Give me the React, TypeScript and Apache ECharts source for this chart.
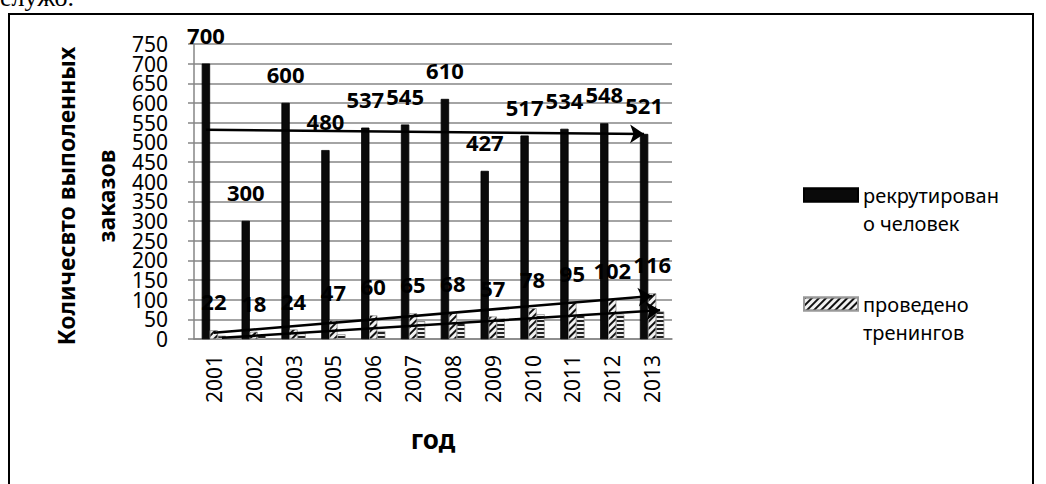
import React, { useEffect, useRef } from "react";
import * as echarts from "echarts";

const years = ["2001", "2002", "2003", "2005", "2006", "2007", "2008", "2009", "2010", "2011", "2012", "2013"];
const recruited = [700, 300, 600, 480, 537, 545, 610, 427, 517, 534, 548, 521];
const trainings = [22, 18, 24, 47, 60, 65, 68, 57, 78, 95, 102, 116];
const thirdSeries = [8, 10, 14, 12, 20, 45, 40, 52, 63, 60, 62, 70];
const seriesNames = ["рекрутировано человек", "проведено тренингов", "Ряд3"];
const legendLabels: Record<string, string> = {
  "рекрутировано человек": " \nрекрутирован\nо человек",
  "проведено тренингов": " \nпроведено\nтренингов",
};
const yMin = 0;
const yMax = 750;
const yInterval = 50;
// tick labels, split in two interleaved sets so that none is dropped as "overlapping"
const yLabelsEven = [0, 100, 200, 300, 400, 500, 600, 700];
const yLabelsOdd = [50, 150, 250, 350, 450, 550, 650, 750];
const yTitle = "Количесвто выполенных\nзаказов";
const xTitle = "год";
const topText = "елужо.";

// Linear trend (least squares), as Excel's linear trendline
function trend(values: number[]): [number, number] {
  const n = values.length;
  const mx = (n - 1) / 2;
  const my = values.reduce((a, b) => a + b, 0) / n;
  let sxy = 0;
  let sxx = 0;
  values.forEach((v, i) => {
    sxy += (i - mx) * (v - my);
    sxx += (i - mx) * (i - mx);
  });
  const slope = sxy / sxx;
  return [my - slope * mx, my + slope * (n - 1 - mx)];
}

function trendMarkLine(values: number[]) {
  const t = trend(values);
  return {
    silent: true,
    symbol: ["none", "arrow"],
    symbolSize: 14,
    label: { show: false },
    lineStyle: { color: "#000", width: 2.5, type: "solid" },
    emphasis: { disabled: true },
    data: [[{ coord: [years[0], t[0]] }, { coord: [years[years.length - 1], t[1]] }]],
  };
}

const FONT = "Noto Sans";

export default function App() {
  const ref = useRef<HTMLDivElement>(null);
  useEffect(() => {
    if (!ref.current) return;
    const chart = echarts.init(ref.current, undefined, { renderer: "svg" });
    const labelStyle = {
      show: true,
      position: "top",
      distance: 18,
      fontSize: 22,
      fontWeight: "bold",
      fontFamily: FONT,
      color: "#000",
    };
    const yLabelStyle = {
      fontSize: 21,
      lineHeight: 14,
      fontFamily: FONT,
      color: "#000",
      margin: 26,
      showMinLabel: true,
      showMaxLabel: true,
    };
    chart.setOption({
      animation: false,
      backgroundColor: "#fff",
      grid: { left: 194, right: 374, top: 44, bottom: 145 },
      legend: {
        orient: "vertical",
        left: 798,
        top: 148,
        itemWidth: 54,
        itemHeight: 13,
        itemGap: 25,
        icon: "rect",
        data: [seriesNames[0], seriesNames[1]],
        formatter: (n: string) => legendLabels[n] || n,
        textStyle: {
          fontSize: 20,
          fontFamily: FONT,
          color: "#000",
          lineHeight: 28,
        },
      },
      xAxis: {
        type: "category",
        data: years,
        axisLine: { lineStyle: { color: "#868686", width: 1.5 } },
        axisTick: { length: 6, lineStyle: { color: "#868686", width: 1.5 } },
        axisLabel: { rotate: 90, fontSize: 21, fontFamily: FONT, color: "#000", margin: 16 },
        name: xTitle,
        nameLocation: "middle",
        nameGap: 87,
        nameTextStyle: { fontSize: 26, fontWeight: "bold", fontFamily: FONT, color: "#000" },
      },
      yAxis: [
        {
          type: "value",
          position: "left",
          min: yMin,
          max: yMax,
          interval: yInterval,
          axisLine: { show: true, lineStyle: { color: "#868686", width: 1.5 } },
          axisTick: { show: true, length: 6, lineStyle: { color: "#868686", width: 1.5 } },
          splitLine: { lineStyle: { color: "#868686", width: 1.5 } },
          axisLabel: { ...yLabelStyle, customValues: yLabelsEven },
        },
        {
          type: "value",
          position: "left",
          offset: 0,
          min: yMin,
          max: yMax,
          interval: yInterval,
          axisLine: { show: false },
          axisTick: { show: false },
          splitLine: { show: false },
          axisLabel: { ...yLabelStyle, customValues: yLabelsOdd },
        },
      ],
      series: [
        {
          type: "bar",
          name: seriesNames[0],
          data: recruited,
          barWidth: 8,
          barGap: "0%",
          itemStyle: {
            color: "#0a0a0a",
            borderColor: "#000",
            borderWidth: 0.5,
            decal: {
              symbol: "circle",
              symbolSize: 0.7,
              dashArrayX: [1, 2],
              dashArrayY: [1, 3],
              color: "rgba(170,170,170,0.9)",
            },
          },
          label: labelStyle,
          markLine: trendMarkLine(recruited),
          z: 2,
        },
        {
          type: "bar",
          name: seriesNames[1],
          data: trainings,
          barWidth: 8,
          barGap: "0%",
          itemStyle: {
            color: "#f2f2f2",
            borderColor: "#999",
            borderWidth: 0.5,
            decal: {
              symbol: "rect",
              symbolSize: 1,
              dashArrayX: [1, 0],
              dashArrayY: [1.5, 2.5],
              rotation: -Math.PI / 4,
              color: "#111",
            },
          },
          label: labelStyle,
          markLine: trendMarkLine(trainings),
          z: 2,
        },
        {
          type: "bar",
          name: seriesNames[2],
          data: thirdSeries,
          barWidth: 8,
          barGap: "0%",
          itemStyle: {
            color: "#f2f2f2",
            borderColor: "#999",
            borderWidth: 0.5,
            decal: {
              symbol: "rect",
              symbolSize: 1,
              dashArrayX: [1, 0],
              dashArrayY: [1.5, 1.5],
              rotation: 0,
              color: "#222",
            },
          },
          markLine: trendMarkLine(thirdSeries),
          z: 2,
        },
      ],
      graphic: [
        {
          type: "rect",
          shape: { x: 9, y: 14, width: 1024, height: 490 },
          style: { fill: "none", stroke: "#000", lineWidth: 2 },
          silent: true,
        },
        {
          type: "text",
          x: 86,
          y: 196,
          rotation: Math.PI / 2,
          style: {
            text: yTitle,
            fontSize: 23,
            fontWeight: "bold",
            fontFamily: FONT,
            fill: "#000",
            align: "center",
            verticalAlign: "middle",
            lineHeight: 40,
          },
          silent: true,
        },
        {
          type: "text",
          x: 0,
          y: 10,
          style: {
            text: topText,
            fontSize: 26,
            fontFamily: "Liberation Serif",
            fill: "#000",
            align: "left",
            verticalAlign: "bottom",
          },
          silent: true,
        },
      ],
    });
    return () => chart.dispose();
  }, []);
  return (
    <div
      ref={ref}
      style={{ position: "absolute", left: 0, top: 0, width: 1046, height: 484 }}
    />
  );
}
